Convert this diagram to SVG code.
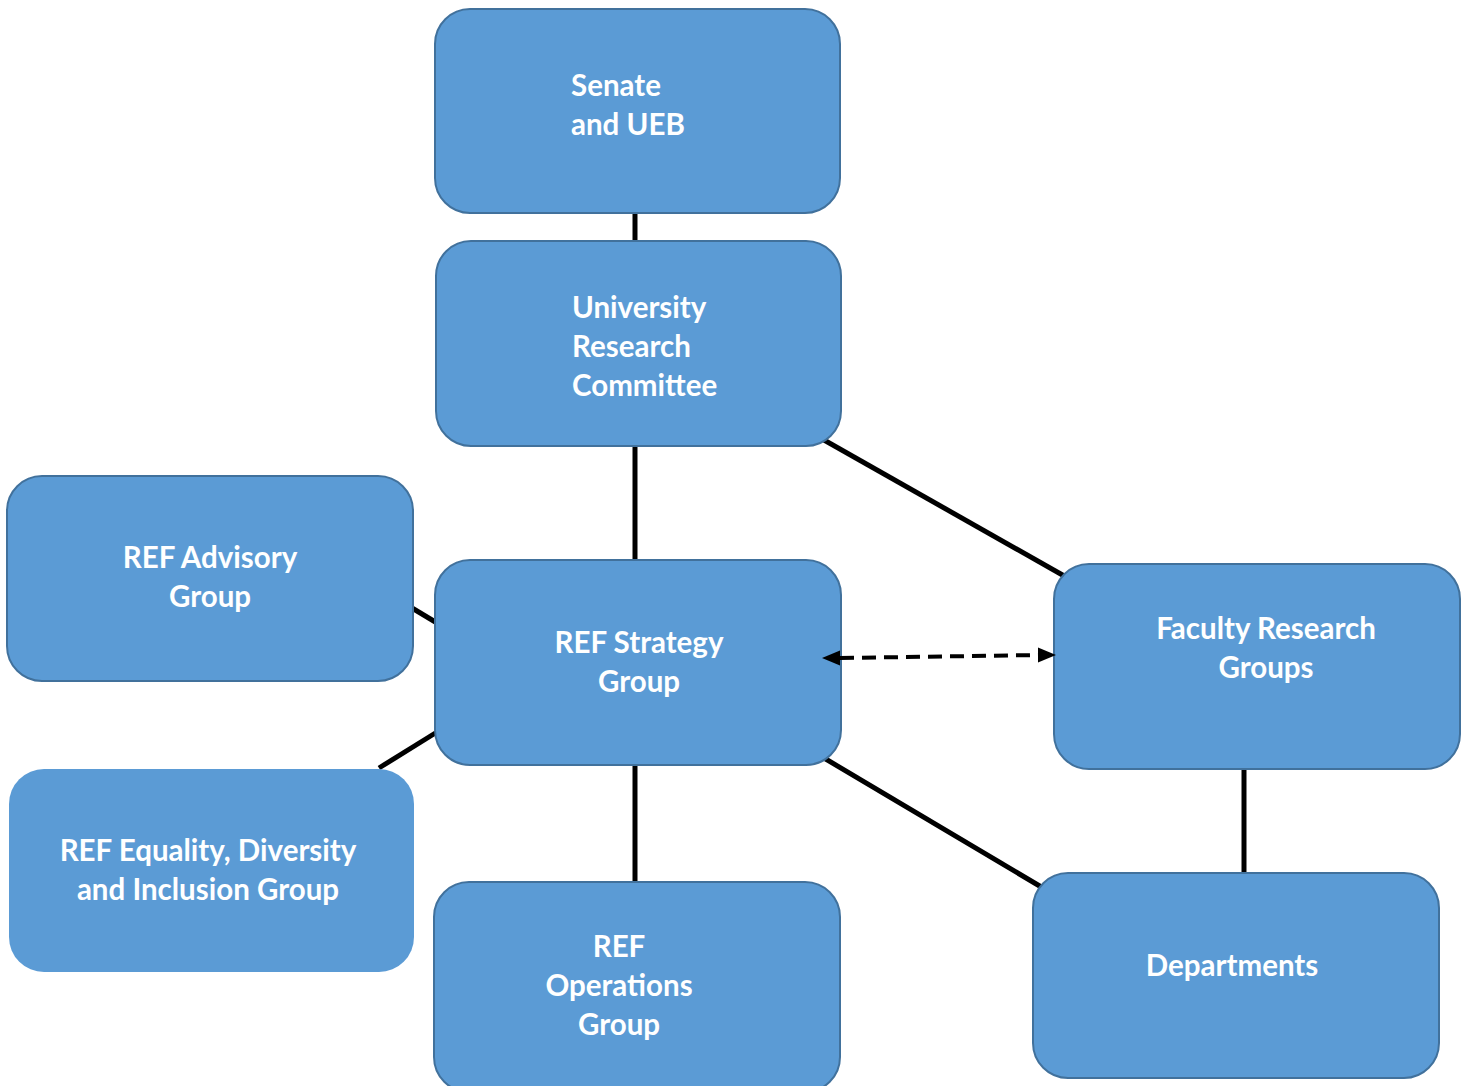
<svg xmlns="http://www.w3.org/2000/svg" width="1469" height="1086" viewBox="0 0 1469 1086">
<style>
.box{fill:#5B9BD5;stroke:#41719C;stroke-width:2}
.nos{fill:#5B9BD5;stroke:none}
.t{font-family:Lato,"Open Sans","Liberation Sans",sans-serif;font-weight:bold;font-size:29.5px;fill:#FFFFFF}
.c{text-anchor:middle}
.ln{stroke:#000;stroke-width:5;fill:none}
.dash{stroke:#000;stroke-width:4;fill:none;stroke-dasharray:14,8}
.head{fill:#000}
</style>
<g id="connectors">
<line class="ln" x1="635" y1="212" x2="635" y2="242"/>
<line class="ln" x1="635" y1="445" x2="635" y2="561"/>
<line class="ln" x1="824" y1="440" x2="1066" y2="577"/>
<line class="ln" x1="412" y1="608" x2="437" y2="623"/>
<line class="ln" x1="379" y1="768" x2="437" y2="732"/>
<line class="ln" x1="635" y1="764" x2="635" y2="883"/>
<line class="ln" x1="824" y1="758" x2="1043" y2="888"/>
<line class="ln" x1="1244" y1="768" x2="1244" y2="874"/>
</g>
<g id="senate">
<rect class="box" x="435" y="9" width="405" height="204" rx="35"/>
<text class="t" x="571" y="96">Senate</text>
<text class="t" x="571" y="135">and UEB</text>
</g>
<g id="urc">
<rect class="box" x="436" y="241" width="405" height="205" rx="35"/>
<text class="t" x="572" y="318">University</text>
<text class="t" x="572" y="357">Research</text>
<text class="t" x="572" y="396">Committee</text>
</g>
<g id="advisory">
<rect class="box" x="7" y="476" width="406" height="205" rx="35"/>
<text class="t c" x="210" y="568">REF Advisory</text>
<text class="t c" x="210" y="607">Group</text>
</g>
<g id="strategy">
<rect class="box" x="435" y="560" width="406" height="205" rx="35"/>
<text class="t c" x="639" y="653">REF Strategy</text>
<text class="t c" x="639" y="692">Group</text>
</g>
<g id="faculty">
<rect class="box" x="1054" y="564" width="406" height="205" rx="35"/>
<text class="t c" x="1266" y="639">Faculty Research</text>
<text class="t c" x="1266" y="678">Groups</text>
</g>
<g id="edi">
<rect class="nos" x="9" y="769" width="405" height="203" rx="35"/>
<text class="t c" x="208" y="861">REF Equality, Diversity</text>
<text class="t c" x="208" y="900">and Inclusion Group</text>
</g>
<g id="operations">
<rect class="box" x="434" y="882" width="406" height="210" rx="35"/>
<text class="t c" x="619" y="957">REF</text>
<text class="t c" x="619" y="996">Operations</text>
<text class="t c" x="619" y="1035">Group</text>
</g>
<g id="departments">
<rect class="box" x="1033" y="873" width="406" height="205" rx="35"/>
<text class="t c" x="1232" y="976">Departments</text>
</g>
<g id="arrow-connector">
<path class="dash" d="M840,658 L1040,655"/>
<path class="head" d="M822,658 L840,650.5 L840,665.5 z"/>
<path class="head" d="M1056,655 L1038,647.5 L1038,662.5 z"/>
</g>
</svg>
